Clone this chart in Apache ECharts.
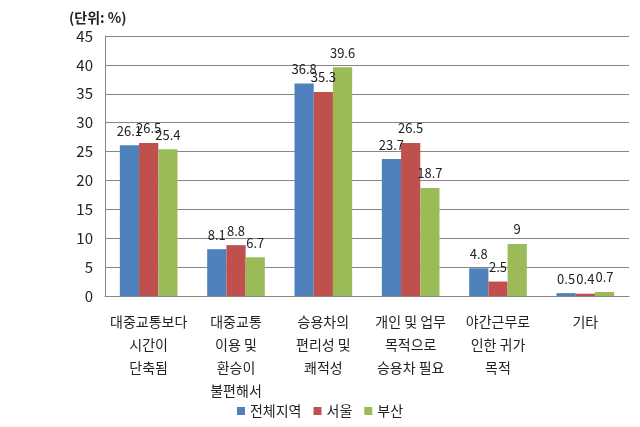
<!DOCTYPE html>
<html><head><meta charset="utf-8">
<script src="https://cdn.jsdelivr.net/npm/echarts@6/dist/echarts.min.js"></script>
<style>html,body{margin:0;padding:0;background:#fff}#c{width:640px;height:427px}</style>
</head><body><div id="c"></div>
<script>
const categories = ['대중교통보다\n시간이\n단축됨','대중교통\n이용 및\n환승이\n불편해서','승용차의\n편리성 및\n쾌적성','개인 및 업무\n목적으로\n승용차 필요','야간근무로\n인한 귀가\n목적','기타'];
const seriesNames = ['전체지역','서울','부산'];
const allRegion = [26.1, 8.1, 36.8, 23.7, 4.8, 0.5];
const seoul = [26.5, 8.8, 35.3, 26.5, 2.5, 0.4];
const busan = [25.4, 6.7, 39.6, 18.7, 9, 0.7];
const colors = ['#4F81BD','#C0504D','#9BBB59'];
const font = '"Noto Sans CJK KR", "Noto Sans", sans-serif';
const chart = echarts.init(document.getElementById('c'));
const mk = (name, data, color) => ({
  name, type:'bar', data, barGap:'0%', barCategoryGap:'34%',
  itemStyle:{color},
  label:{show:true, position:'top', distance:8, color:'#222', fontSize:13, fontFamily:font}
});
chart.setOption({
  animation:false,
  textStyle:{fontFamily:font},
  title:{text:'(단위: %)', left:64, top:6, textStyle:{fontSize:14, fontWeight:'bold', color:'#222', fontFamily:font}},
  grid:{left:105, right:11, top:36, bottom:131, containLabel:false},
  legend:{bottom:4, left:'center', itemWidth:8, itemHeight:8, itemGap:12, icon:'rect',
    textStyle:{fontSize:14, color:'#222', fontFamily:font, padding:[0,0,0,0]}, data:seriesNames},
  xAxis:{type:'category', data:categories,
    axisLine:{lineStyle:{color:'#868686'}}, axisTick:{show:false},
    axisLabel:{interval:0, fontSize:14, color:'#222', lineHeight:23, margin:14, fontFamily:font}},
  yAxis:{type:'value', min:0, max:45, interval:5,
    axisLine:{show:true, lineStyle:{color:'#868686'}}, axisTick:{show:false},
    splitLine:{lineStyle:{color:'#868686'}},
    axisLabel:{fontSize:15, color:'#222', margin:12, fontFamily:font}},
  series:[mk(seriesNames[0], allRegion, colors[0]), mk(seriesNames[1], seoul, colors[1]), mk(seriesNames[2], busan, colors[2])]
});
</script></body></html>
